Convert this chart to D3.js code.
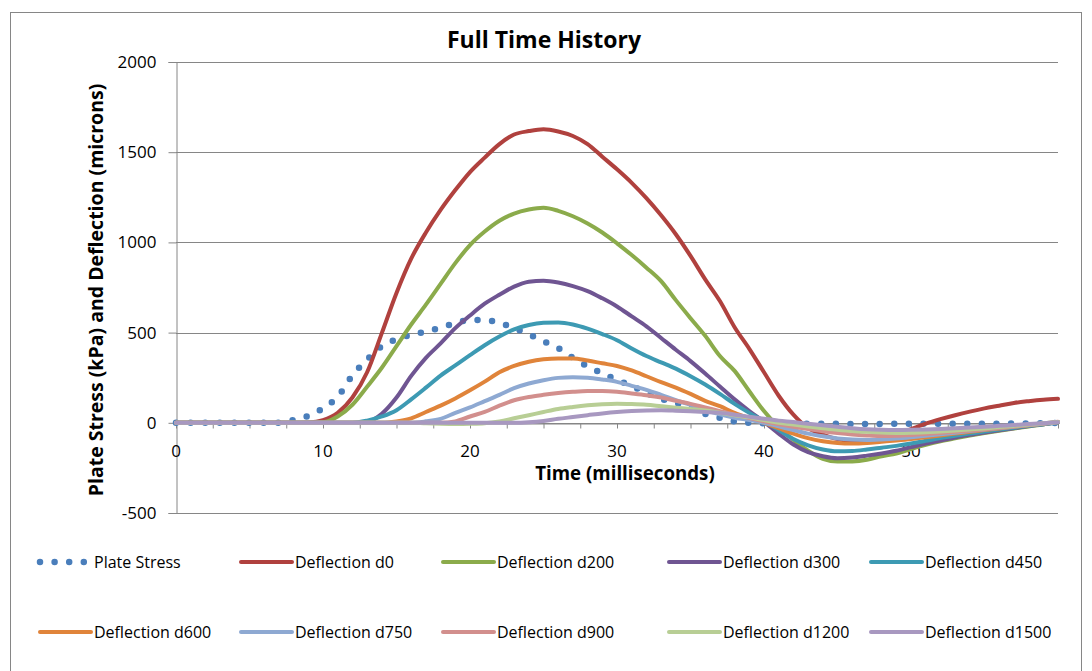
<!DOCTYPE html>
<html>
<head>
<meta charset="utf-8">
<script src="https://cdn.jsdelivr.net/npm/d3@7"></script>
<style>
  html, body { margin: 0; padding: 0; background: #fff; }
  svg { display: block; }
  text { font-family: "Open Sans", "Noto Sans", sans-serif; fill: #000; }
</style>
</head>
<body>
<svg id="chart" width="1092" height="671"></svg>
<script>
// ---------- data ----------
const time = [0,1,2,3,4,5,6,7,8,9,10,11,12,13,14,15,16,17,18,19,20,21,22,23,24,25,26,27,28,29,30,
              31,32,33,34,35,36,37,38,39,40,41,42,43,44,45,46,47,48,49,50,51,52,53,54,55,56,57,58,59,60];

const plateStress = [0,0,0,0,0,0,0,0,15,38,80,145,262,350,425,463,487,505,528,553,570,570,553,525,490,452,414,360,313,275,238,
                     205,165,133,110,87,50,28,8,0,-3,-5,-5,-5,-5,-5,-6,-6,-6,-5,-5,-5,-5,-5,-5,-5,-5,-4,-3,-2,0];
const d0    = [0,0,0,0,0,0,0,0,0,2,15,55,140,280,497,720,910,1055,1180,1290,1390,1470,1545,1598,1617,1627,1615,1590,1545,1475,1405,
               1330,1245,1150,1045,925,795,675,530,410,280,150,45,-30,-65,-90,-100,-100,-88,-65,-35,-5,20,42,62,80,95,110,120,128,133];
const d200  = [0,0,0,0,0,0,0,0,0,0,3,35,100,200,305,425,545,655,770,885,985,1060,1120,1160,1182,1192,1175,1145,1105,1055,995,
               930,860,785,680,580,482,370,288,175,65,-25,-95,-155,-200,-215,-214,-205,-185,-170,-145,-122,-102,-86,-71,-57,-44,-32,-20,-9,5];
const d300  = [0,0,0,0,0,0,0,0,0,0,0,0,0,5,50,140,260,360,440,525,595,660,710,755,782,788,778,758,730,690,645,
               590,535,470,405,342,273,201,130,65,5,-60,-120,-162,-185,-196,-192,-182,-170,-155,-135,-115,-98,-82,-67,-54,-42,-30,-18,-8,3];
const d450  = [0,0,0,0,0,0,0,0,0,0,0,0,0,12,35,70,130,195,262,318,375,430,478,518,542,554,556,545,522,492,458,
               412,370,335,300,258,212,160,105,55,10,-40,-90,-125,-148,-158,-156,-148,-138,-128,-115,-100,-85,-72,-60,-48,-37,-27,-17,-8,2];
const d600  = [0,0,0,0,0,0,0,0,0,0,0,0,0,0,0,8,25,60,95,135,180,228,280,315,338,352,357,357,345,330,315,
               290,258,225,195,160,122,92,55,26,0,-30,-60,-85,-102,-112,-115,-112,-105,-98,-90,-80,-70,-60,-50,-40,-31,-22,-13,-5,3];
const d750  = [0,0,0,0,0,0,0,0,0,0,0,0,0,0,0,0,0,8,22,55,85,120,155,192,218,236,249,253,250,240,227,
               205,183,155,125,100,70,47,28,15,0,-20,-40,-60,-75,-87,-93,-95,-92,-87,-80,-72,-64,-55,-46,-37,-29,-21,-13,-5,4];
const d900  = [0,0,0,0,0,0,0,0,0,0,0,0,0,0,0,0,0,0,0,8,35,60,95,125,143,155,165,172,176,176,172,
               163,153,140,122,105,85,65,45,26,8,-8,-22,-35,-47,-57,-65,-70,-73,-72,-68,-62,-56,-50,-43,-36,-28,-20,-12,-4,6];
const d1200 = [0,0,0,0,0,0,0,0,0,0,0,0,0,0,0,0,0,-3,-5,-6,-5,-2,8,25,42,60,77,88,97,103,106,
               104,100,92,84,76,68,56,42,30,15,0,-10,-20,-30,-38,-45,-50,-54,-56,-55,-52,-48,-43,-37,-31,-24,-17,-10,-3,5];
const d1500 = [0,0,0,0,0,0,0,0,0,0,0,0,0,0,0,0,0,0,0,0,0,0,0,0,3,10,22,32,42,52,60,
               65,68,69,67,64,60,55,45,33,22,12,4,-5,-14,-22,-30,-36,-39,-40,-39,-37,-34,-30,-26,-22,-17,-12,-7,-2,3];

const seriesNames  = ["Plate Stress","Deflection d0","Deflection d200","Deflection d300","Deflection d450",
                      "Deflection d600","Deflection d750","Deflection d900","Deflection d1200","Deflection d1500"];
const seriesValues = [plateStress, d0, d200, d300, d450, d600, d750, d900, d1200, d1500];
const seriesColors = ["#4A7EBB","#B0413E","#8BAB4B","#6F5592","#3D9AB3","#E0843A","#8EA9D2","#D28F8D","#B8CE95","#A898C0"];

const xTickLabels = [0, 10, 20, 30, 40, 50];
const yTickLabels = [-500, 0, 500, 1000, 1500, 2000];
const xMinorTicks = [0,2.5,5,7.5,10,12.5,15,17.5,20,22.5,25,27.5,30,32.5,35,37.5,40,42.5,45,47.5,50,52.5,55,57.5,60];

const titleText = "Full Time History";
const xTitle = "Time (milliseconds)";
const yTitle = "Plate Stress (kPa) and Deflection (microns)";

// ---------- drawing ----------
const svg = d3.select("#chart");
const gridColor = "#868686";

// outer chart border
svg.append("rect").attr("x", 10.5).attr("y", 12.5).attr("width", 1071).attr("height", 680)
  .attr("fill", "none").attr("stroke", gridColor).attr("stroke-width", 1);

const x = d3.scaleLinear().domain([0, 60]).range([176, 1058]);
const y = d3.scaleLinear().domain([-500, 2000]).range([513, 62]);

// gridlines
svg.append("g").selectAll("line").data(yTickLabels).join("line")
  .attr("x1", x(0)).attr("x2", x(60))
  .attr("y1", d => Math.round(y(d)) + 0.5).attr("y2", d => Math.round(y(d)) + 0.5)
  .attr("stroke", gridColor).attr("stroke-width", 1);

// y axis
const yAxis = d3.axisLeft(y).tickValues(yTickLabels).tickSize(8).tickPadding(12).tickFormat(d => String(d));
const gy = svg.append("g").attr("transform", `translate(${Math.round(x(0)) + 0.5},0)`).call(yAxis);
gy.selectAll("path.domain").attr("stroke", gridColor);
gy.selectAll(".tick line").attr("stroke", gridColor);
gy.selectAll("text").style("font-size", "17px").attr("font-family", "Open Sans");

// x axis at y = 0
const y0 = Math.round(y(0)) + 0.5;
const xAxis = d3.axisBottom(x).tickValues(xMinorTicks).tickSize(5).tickSizeOuter(0).tickFormat(() => "");
const gx = svg.append("g").attr("transform", `translate(0,${y0})`).call(xAxis);
gx.selectAll("path.domain").attr("stroke", gridColor);
gx.selectAll(".tick line").attr("stroke", gridColor);
svg.append("g").selectAll("text").data(xTickLabels).join("text")
  .attr("x", d => x(d)).attr("y", y0 + 33)
  .attr("text-anchor", "middle").style("font-size", "17px").text(d => String(d));

// series
const line = d3.line().x((d, i) => x(time[i])).y(d => y(d)).curve(d3.curveMonotoneX);
const gs = svg.append("g");
seriesValues.forEach((vals, k) => {
  const p = gs.append("path").datum(vals).attr("d", line)
    .attr("fill", "none").attr("stroke", seriesColors[k]);
  if (k === 0) {
    p.attr("stroke-width", 6.5).attr("stroke-linecap", "round").attr("stroke-dasharray", "0 14.6");
  } else {
    p.attr("stroke-width", 4).attr("stroke-linejoin", "round").attr("stroke-linecap", "round");
  }
});

// titles
svg.append("text").attr("x", 544).attr("y", 48).attr("text-anchor", "middle")
  .style("font-size", "23px").style("font-weight", "bold").text(titleText);
svg.append("text").attr("x", 625).attr("y", 480).attr("text-anchor", "middle")
  .style("font-size", "18.7px").style("font-weight", "bold").text(xTitle);
svg.append("text").attr("transform", "translate(103,290) rotate(-90)").attr("text-anchor", "middle")
  .style("font-size", "19.5px").style("font-weight", "bold").text(yTitle);

// legend
const legCols = [40, 241, 443, 669, 871];
const legRows = [562, 632];
const lg = svg.append("g");
seriesNames.forEach((name, k) => {
  const cx = legCols[k % 5], cy = legRows[Math.floor(k / 5)];
  if (k === 0) {
    lg.append("path").attr("d", `M${cx},${cy}H${cx + 44}`).attr("stroke", seriesColors[k])
      .attr("stroke-width", 6.5).attr("stroke-linecap", "round").attr("stroke-dasharray", "0 14.6");
  } else {
    lg.append("line").attr("x1", cx).attr("x2", cx + 51).attr("y1", cy).attr("y2", cy)
      .attr("stroke", seriesColors[k]).attr("stroke-width", 4).attr("stroke-linecap", "round");
  }
  lg.append("text").attr("x", cx + 54).attr("y", cy).attr("dy", "0.35em")
    .style("font-size", "16px").text(name);
});
</script>
</body>
</html>
